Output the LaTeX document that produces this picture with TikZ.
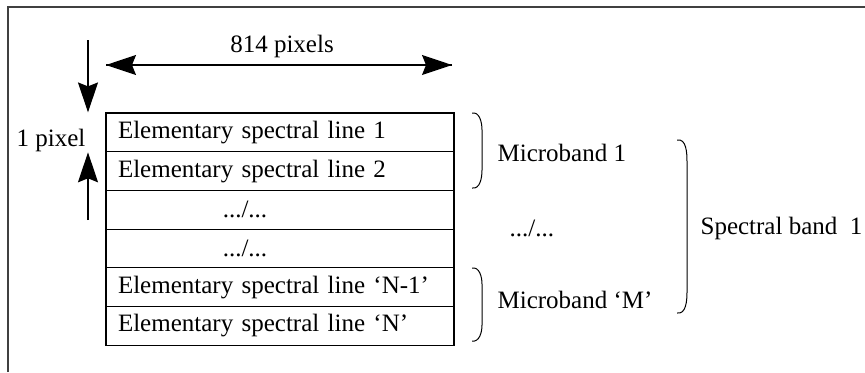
\documentclass[tikz,border=0pt]{standalone}
\usepackage{fontspec}
\setmainfont{Liberation Serif}
\usetikzlibrary{arrows.meta}

\begin{document}
\begin{tikzpicture}[
  x=0.5pt, y=-0.5pt,
  font=\fontsize{12.5}{15}\selectfont,
  line width=0.6pt,
  row/.style={draw, rectangle, minimum height=19.35pt, text width=162pt,
    inner xsep=6pt, inner ysep=0pt, align=left},
  lbl/.style={inner sep=0pt, anchor=west},
  dim/.style={-{Stealth[length=15pt, width=10pt, inset=2pt]}},
  band/.style={line width=0.5pt}
]

\useasboundingbox (0,0) rectangle (865,372);
\draw[line width=1pt, black!75] (8,372) -- (8,7) -- (865,7);

\node[row] (r1) at (280, 132.35) {Elementary spectral line 1};
\node[row] (r2) at (280, 171.05) {Elementary spectral line 2};
\node[row] (r3) at (280, 209.75) {};
\node[row] (r4) at (280, 248.45) {};
\node[row] (r5) at (280, 287.15) {Elementary spectral line `N-1'};
\node[row] (r6) at (280, 325.85) {Elementary spectral line `N'};

\node (d1) at (245, 209.75) {.../...};
\node (d2) at (245, 248.45) {.../...};

\coordinate (hl) at (106, 65);
\coordinate (hr) at (452, 65);
\draw[dim] (hr) -- (hl);
\draw[dim] (hl) -- (hr);
\node (w) at (282, 46) {814 pixels};

\coordinate (vt) at (88, 40);
\coordinate (vb) at (88, 220);
\draw[dim] (vt) -- (vt |- r1.north);
\draw[dim] (vb) -- (vb |- r1.south);
\node[lbl] (h) at (16, 140) {1 pixel};

\draw[band] (472,113) to[out=10, in=90] (482,130) -- (482,170) to[out=-90, in=-10] (472,188);
\draw[band] (472,268) to[out=10, in=90] (482,284) -- (482,325) to[out=-90, in=-10] (472,341);
\draw[band] (677,140) to[out=10, in=90] (687,162) -- (687,292) to[out=-90, in=-10] (677,313);

\node[lbl] (m1) at (497, 153) {Microband 1};
\node[lbl] (mm) at (497, 300) {Microband `M'};
\node[lbl] (md) at (509, 228) {.../...};
\node[lbl] (sb) at (700, 228) {Spectral band\ \ 1};

\end{tikzpicture}
\end{document}
